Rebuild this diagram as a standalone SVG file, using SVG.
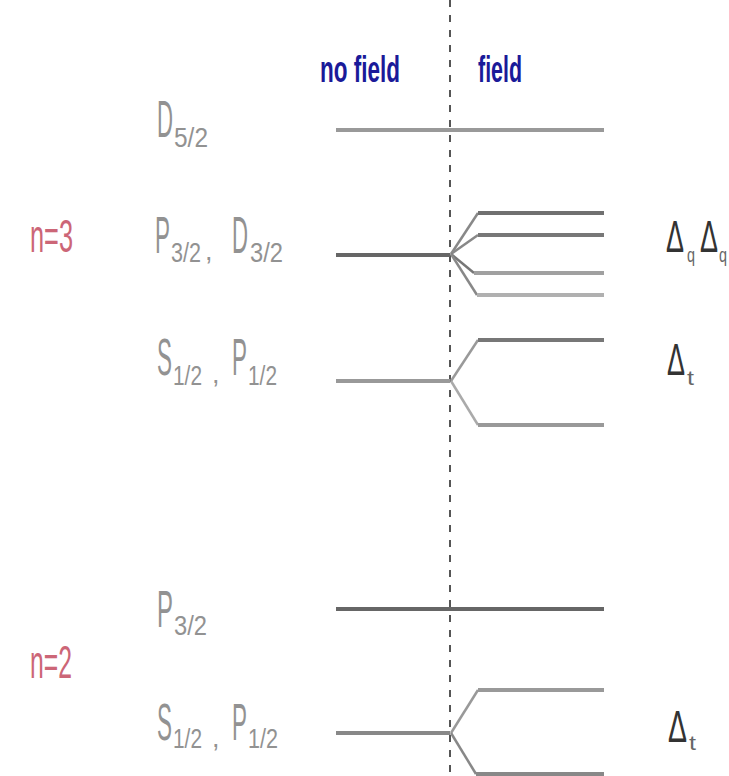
<svg xmlns="http://www.w3.org/2000/svg" width="729" height="776" viewBox="0 0 729 776">
<style>
.lbl{font-family:"Liberation Sans",Arial,sans-serif;fill:#929292;}
.big{font-size:51px;}
.sub{font-size:27px;}
.n{font-family:"Liberation Sans",Arial,sans-serif;fill:#cc6677;font-size:46px;}
.hdr{font-family:"Liberation Sans",Arial,sans-serif;fill:#1a1a99;font-size:36px;font-weight:bold;}
.dl{font-family:"Liberation Sans",Arial,sans-serif;fill:#333;}
.db{font-size:44px;}
.ds{font-size:20px;fill:#666;}
.lv{stroke-width:4;fill:none;stroke-linecap:butt;}
.br{stroke-width:2.5;fill:none;}
</style>
<rect width="729" height="776" fill="#ffffff"/>
<g id="header">
<text class="hdr" x="320" y="82" textLength="80" lengthAdjust="spacingAndGlyphs">no field</text>
<text class="hdr" x="478" y="82" textLength="44" lengthAdjust="spacingAndGlyphs">field</text>
</g>
<g id="divider"><line x1="450" y1="0" x2="450" y2="776" stroke="#555" stroke-width="2" stroke-dasharray="7,8"/></g>
<g id="n3"><text class="n" x="30" y="252" textLength="43" lengthAdjust="spacingAndGlyphs">n=3</text></g>
<g id="n2"><text class="n" x="30" y="678" textLength="42" lengthAdjust="spacingAndGlyphs">n=2</text></g>
<g id="D52">
<text class="lbl"><tspan class="big" x="157" y="137" textLength="16" lengthAdjust="spacingAndGlyphs">D</tspan><tspan class="sub" x="174" y="147" textLength="34" lengthAdjust="spacingAndGlyphs">5/2</tspan></text>
</g>
<g id="P32D32">
<text class="lbl"><tspan class="big" x="155" y="253" textLength="15" lengthAdjust="spacingAndGlyphs">P</tspan><tspan class="sub" x="171" y="262" textLength="30" lengthAdjust="spacingAndGlyphs">3/2</tspan><tspan class="sub" x="205" y="260">,</tspan><tspan class="big" x="232" y="253" textLength="16" lengthAdjust="spacingAndGlyphs">D</tspan><tspan class="sub" x="250" y="262" textLength="33" lengthAdjust="spacingAndGlyphs">3/2</tspan></text>
</g>
<g id="S12P12_3">
<text class="lbl"><tspan class="big" x="157" y="375" textLength="15" lengthAdjust="spacingAndGlyphs">S</tspan><tspan class="sub" x="173" y="385" textLength="29" lengthAdjust="spacingAndGlyphs">1/2</tspan><tspan class="sub" x="212" y="383">,</tspan><tspan class="big" x="232" y="375" textLength="15" lengthAdjust="spacingAndGlyphs">P</tspan><tspan class="sub" x="248" y="385" textLength="29" lengthAdjust="spacingAndGlyphs">1/2</tspan></text>
</g>
<g id="P32_2">
<text class="lbl"><tspan class="big" x="157" y="627" textLength="16" lengthAdjust="spacingAndGlyphs">P</tspan><tspan class="sub" x="174" y="635" textLength="33" lengthAdjust="spacingAndGlyphs">3/2</tspan></text>
</g>
<g id="S12P12_2">
<text class="lbl"><tspan class="big" x="157" y="740" textLength="15" lengthAdjust="spacingAndGlyphs">S</tspan><tspan class="sub" x="173" y="748" textLength="29" lengthAdjust="spacingAndGlyphs">1/2</tspan><tspan class="sub" x="212" y="747">,</tspan><tspan class="big" x="232" y="740" textLength="15" lengthAdjust="spacingAndGlyphs">P</tspan><tspan class="sub" x="248" y="748" textLength="30" lengthAdjust="spacingAndGlyphs">1/2</tspan></text>
</g>
<g id="deltas">
<text class="dl"><tspan class="db" x="666" y="252" textLength="18" lengthAdjust="spacingAndGlyphs">Δ</tspan><tspan class="ds" x="687" y="262" textLength="8" lengthAdjust="spacingAndGlyphs">q</tspan><tspan class="db" x="700" y="252" textLength="18" lengthAdjust="spacingAndGlyphs">Δ</tspan><tspan class="ds" x="719" y="262" textLength="8" lengthAdjust="spacingAndGlyphs">q</tspan></text>
<text class="dl"><tspan class="db" x="667" y="375" textLength="18" lengthAdjust="spacingAndGlyphs">Δ</tspan><tspan class="ds" x="687" y="385" textLength="7" lengthAdjust="spacingAndGlyphs">t</tspan></text>
<text class="dl"><tspan class="db" x="668" y="742" textLength="19" lengthAdjust="spacingAndGlyphs">Δ</tspan><tspan class="ds" x="689" y="750" textLength="7" lengthAdjust="spacingAndGlyphs">t</tspan></text>
</g>
<g id="connectors">
<line class="lv" x1="336" y1="130" x2="604" y2="130" stroke="#999"/>
<line class="lv" x1="336" y1="255" x2="450" y2="255" stroke="#666"/>
<polyline class="br" points="451,254 478,213" stroke="#888"/>
<polyline class="br" points="451,254 478,235" stroke="#888"/>
<polyline class="br" points="451,254 474,273" stroke="#777"/>
<polyline class="br" points="451,254 477,295" stroke="#888"/>
<line class="lv" x1="478" y1="213" x2="604" y2="213" stroke="#707070"/>
<line class="lv" x1="478" y1="235" x2="604" y2="235" stroke="#777"/>
<line class="lv" x1="474" y1="273" x2="604" y2="273" stroke="#a0a0a0"/>
<line class="lv" x1="477" y1="295" x2="604" y2="295" stroke="#b0b0b0"/>
<line class="lv" x1="336" y1="381" x2="450" y2="381" stroke="#999"/>
<polyline class="br" points="451,381 478,340" stroke="#999"/>
<polyline class="br" points="451,381 478,425" stroke="#aaa"/>
<line class="lv" x1="478" y1="340" x2="604" y2="340" stroke="#777"/>
<line class="lv" x1="478" y1="425" x2="604" y2="425" stroke="#999"/>
<line class="lv" x1="336" y1="609" x2="604" y2="609" stroke="#666"/>
<line class="lv" x1="336" y1="733" x2="450" y2="733" stroke="#888"/>
<polyline class="br" points="451,733 478,690" stroke="#999"/>
<polyline class="br" points="451,733 476,774" stroke="#888"/>
<line class="lv" x1="478" y1="690" x2="604" y2="690" stroke="#999"/>
<line class="lv" x1="476" y1="774" x2="604" y2="774" stroke="#888"/>
</g>
</svg>
